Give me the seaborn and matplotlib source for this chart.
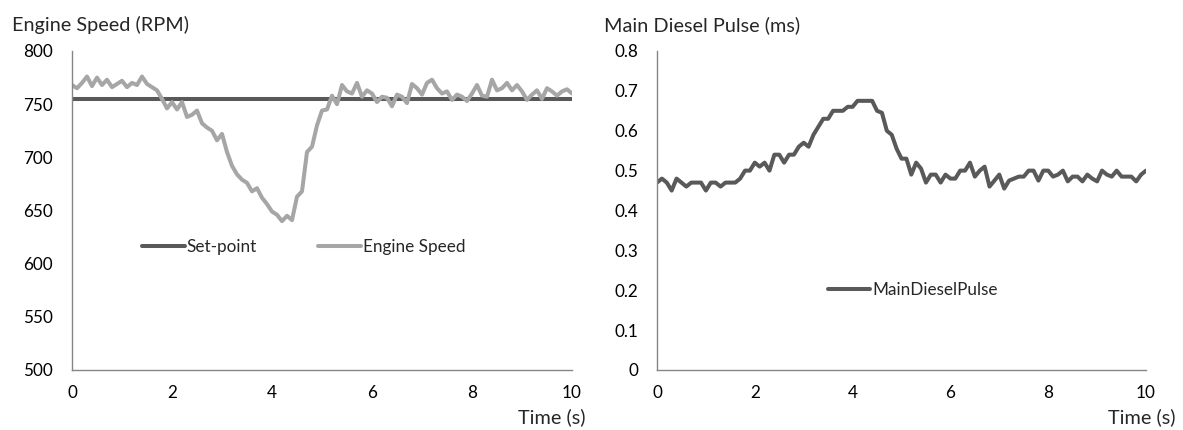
import numpy as np
import pandas as pd
import matplotlib
matplotlib.use("Agg")
import matplotlib.pyplot as plt
import seaborn as sns

time_s = [round(i * 0.1, 1) for i in range(101)]

engine_speed = [
    768, 765, 770, 776, 767, 775, 768, 773, 766, 769,
    772, 766, 770, 768, 776, 769, 766, 763, 755, 746,
    752, 745, 752, 738, 740, 744, 732, 728, 725, 716,
    722, 705, 692, 684, 679, 676, 668, 671, 662, 656,
    649, 646, 640, 645, 641, 663, 668, 705, 710, 730,
    744, 745, 758, 750, 768, 762, 760, 770, 757, 763,
    760, 752, 757, 756, 748, 759, 757, 751, 769, 765,
    759, 770, 773, 765, 760, 762, 754, 759, 757, 753,
    760, 768, 758, 757, 773, 763, 765, 770, 763, 768,
    762, 754, 759, 763, 755, 765, 762, 758, 762, 764,
    760,
]
set_point = [755] * 101

main_diesel_pulse = [
    0.47, 0.48, 0.47, 0.45, 0.48, 0.47, 0.46, 0.47, 0.47, 0.47,
    0.45, 0.47, 0.47, 0.46, 0.47, 0.47, 0.47, 0.48, 0.50, 0.50,
    0.52, 0.51, 0.52, 0.50, 0.54, 0.54, 0.52, 0.54, 0.54, 0.56,
    0.57, 0.56, 0.59, 0.61, 0.63, 0.63, 0.65, 0.65, 0.65, 0.66,
    0.66, 0.675, 0.675, 0.675, 0.675, 0.65, 0.645, 0.60, 0.59, 0.555,
    0.53, 0.53, 0.49, 0.52, 0.505, 0.47, 0.49, 0.49, 0.47, 0.49,
    0.48, 0.48, 0.50, 0.50, 0.52, 0.485, 0.50, 0.51, 0.46, 0.475,
    0.49, 0.455, 0.475, 0.48, 0.485, 0.485, 0.50, 0.50, 0.475, 0.50,
    0.50, 0.485, 0.49, 0.50, 0.473, 0.485, 0.485, 0.473, 0.49, 0.48,
    0.473, 0.50, 0.49, 0.485, 0.50, 0.485, 0.485, 0.485, 0.473, 0.49,
    0.50,
]

left_yticks = [500, 550, 600, 650, 700, 750, 800]
right_yticks = [0, 0.1, 0.2, 0.3, 0.4, 0.5, 0.6, 0.7, 0.8]
right_ytick_labels = ["0", "0.1", "0.2", "0.3", "0.4", "0.5", "0.6", "0.7", "0.8"]
xticks = [0, 2, 4, 6, 8, 10]

sns.set_theme(style="white")
plt.rcParams['font.family'] = ['Lato', 'DejaVu Sans']

fig = plt.figure(figsize=(11.83, 4.30), dpi=100)
ax1 = fig.add_axes([72/1183, 60/430, 500/1183, 319/430])
ax2 = fig.add_axes([657/1183, 60/430, 489/1183, 319/430])

df1 = pd.DataFrame({
    "Time": time_s * 2,
    "Value": set_point + engine_speed,
    "Series": ["Set-point"] * 101 + ["Engine Speed"] * 101,
})
sns.lineplot(data=df1, x="Time", y="Value", hue="Series",
             palette={"Set-point": "#595959", "Engine Speed": "#a6a6a6"},
             linewidth=2.9, ax=ax1, legend=False)

df2 = pd.DataFrame({"Time": time_s, "Value": main_diesel_pulse,
                    "Series": ["MainDieselPulse"] * 101})
sns.lineplot(data=df2, x="Time", y="Value", color="#595959",
             linewidth=2.9, ax=ax2, legend=False)

tick_fs = 12.3
spine_col = "#868686"
for ax, yt, ylim in [(ax1, left_yticks, (500, 800)), (ax2, right_yticks, (0, 0.8))]:
    ax.set_xlim(0, 10)
    ax.set_ylim(*ylim)
    ax.set_xticks(xticks)
    ax.set_xticklabels([str(x) for x in xticks])
    ax.set_yticks(yt)
    ax.set_xlabel("")
    ax.set_ylabel("")
    for s in ["top", "right"]:
        ax.spines[s].set_visible(False)
    for s in ["left", "bottom"]:
        ax.spines[s].set_color(spine_col)
        ax.spines[s].set_linewidth(1.0)
    ax.tick_params(axis="both", length=0, labelsize=tick_fs, colors="black")
    ax.tick_params(axis="x", pad=10.5)
    ax.tick_params(axis="y", pad=13.5)
    ax.grid(False)

ax2.set_yticklabels(right_ytick_labels)
ax1.set_yticklabels([str(v) for v in left_yticks])

# legends
leg_fs = 12.3
h1 = ax1.get_lines()
ax1.legend(h1[:2], ["Set-point", "Engine Speed"], loc="center",
           bbox_to_anchor=(0.463, 0.385), ncol=2, frameon=False,
           fontsize=leg_fs, handlelength=2.5, handletextpad=0.1,
           columnspacing=3.6)
h2 = ax2.get_lines()
ax2.legend(h2[:1], ["MainDieselPulse"], loc="center",
           bbox_to_anchor=(0.523, 0.25), frameon=False, fontsize=leg_fs,
           handlelength=2.5, handletextpad=0.1)

title_fs = 14.3
fig.text(12/1183, 1 - 25/430, "Engine Speed (RPM)", fontsize=title_fs, va="center", ha="left")
fig.text(604/1183, 1 - 25/430, "Main Diesel Pulse (ms)", fontsize=title_fs, va="center", ha="left")
fig.text(586/1183, 1 - 417/430, "Time (s)", fontsize=title_fs, va="center", ha="right")
fig.text(1176/1183, 1 - 417/430, "Time (s)", fontsize=title_fs, va="center", ha="right")

fig.savefig("out.png", dpi=100)
